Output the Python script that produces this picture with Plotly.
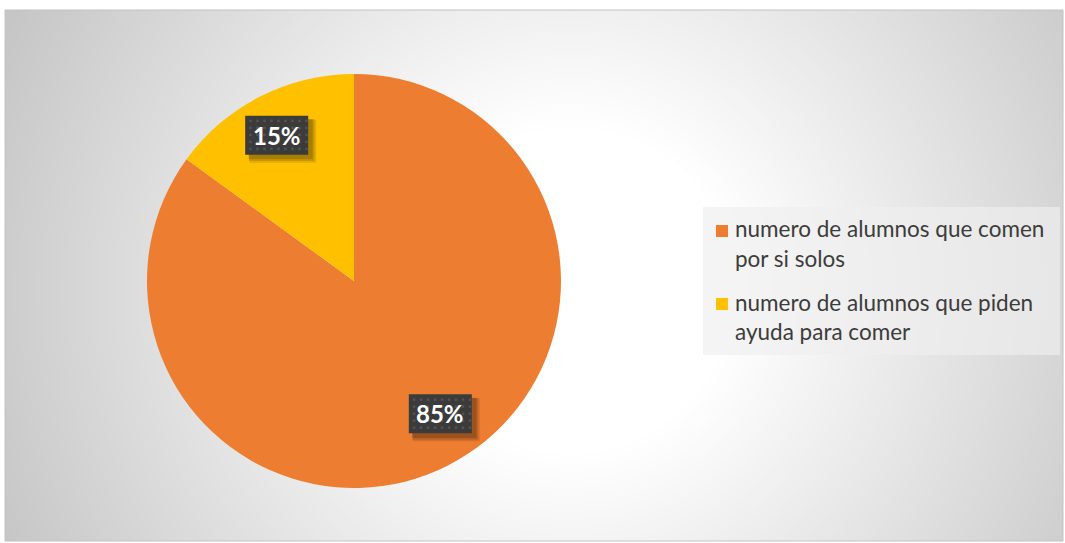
import numpy as np
import plotly.graph_objects as go

# ---- data ----
labels = [
    "numero de alumnos que comen por si solos",
    "numero de alumnos que piden ayuda para comer",
]
legend_lines = [
    ["numero de alumnos que comen", "por si solos"],
    ["numero de alumnos que piden", "ayuda para comer"],
]
values = [85, 15]
colors = ["#ED7D31", "#FFC000"]

# ---- layout geometry (pixels) ----
W, H = 1065, 543
FX0, FY0, FX1, FY1 = 5, 10, 1063, 541          # chart frame
PCX, PCY, PR = 354, 281, 207                    # pie centre / radius
LABEL_R = 0.78                                  # data label radial position
LABEL_NUDGE = [(13, -11), (-4, -2)]             # best-fit adjustments
BOX_W, BOX_H = 63, 39
LEG_X0, LEG_Y0, LEG_X1, LEG_Y1 = 703, 207, 1060, 355
LEG_SWATCH_X, LEG_TEXT_X = 716, 733
LEG_FIRST_Y, LEG_LINE_H, LEG_ENTRY_GAP = 229, 29, 15
FONT = "Lato"


def px(x):
    return x / W


def py(y):
    return 1 - y / H


fig = go.Figure()

# soft radial backdrop inside the chart frame
gx = np.linspace(FX0, FX1, 133)
gy = np.linspace(FY0, FY1, 67)
GX, GY = np.meshgrid(gx, gy)
dist = np.hypot(GX - 570, GY - 290)
shade = 255 - 57 * np.clip((dist - 160) / 460, 0, 1)
fig.add_trace(go.Heatmap(
    x=gx, y=gy, z=shade, zmin=198, zmax=255, zsmooth="best",
    colorscale=[[0, "rgb(198,198,198)"], [1, "rgb(255,255,255)"]],
    showscale=False, hoverinfo="skip",
))

fig.add_trace(go.Pie(
    labels=labels, values=values, sort=False, direction="clockwise", rotation=0,
    marker=dict(colors=colors, line=dict(width=0)),
    textinfo="none", hoverinfo="label+percent", showlegend=False,
    domain=dict(x=[px(PCX - PR), px(PCX + PR)], y=[py(PCY + PR), py(PCY - PR)]),
))

shapes = []
annotations = []

# data labels: dark dotted boxes with a soft shadow
total = sum(values)
cum = 0
for i, v in enumerate(values):
    mid = (cum + v / 2) / total
    cum += v
    th = 2 * np.pi * mid
    lx = PCX + LABEL_R * PR * np.sin(th) + LABEL_NUDGE[i][0]
    ly = PCY - LABEL_R * PR * np.cos(th) + LABEL_NUDGE[i][1]
    bx0, by0 = lx - BOX_W / 2, ly - BOX_H / 2
    bx1, by1 = lx + BOX_W / 2, ly + BOX_H / 2
    for k, a in enumerate([0.10, 0.12, 0.16]):
        o = 6 - k
        g = 2 - k * 0.7
        shapes.append(dict(type="rect", xref="paper", yref="paper", layer="above",
                           x0=px(bx0 + o - g), x1=px(bx1 + o + g),
                           y0=py(by1 + o + g), y1=py(by0 + o - g),
                           line=dict(width=0), fillcolor=f"rgba(0,0,0,{a})"))
    shapes.append(dict(type="rect", xref="paper", yref="paper", layer="above",
                       x0=px(bx0), x1=px(bx1), y0=py(by1), y1=py(by0),
                       line=dict(width=0), fillcolor="#3b3b3b"))
    for dx in np.arange(bx0 + 4, bx1 - 2, 7):
        for dy in np.arange(by0 + 4, by1 - 2, 7):
            shapes.append(dict(type="rect", xref="paper", yref="paper", layer="above",
                               x0=px(dx), x1=px(dx + 2.5), y0=py(dy + 2.5), y1=py(dy),
                               line=dict(width=0), fillcolor="#535353"))
    pct = round(100 * v / total)
    annotations.append(dict(x=px(lx), y=py(ly), xref="paper", yref="paper",
                            text=f"<b>{pct}%</b>", showarrow=False,
                            xanchor="center", yanchor="middle",
                            font=dict(family=FONT, size=24, color="white")))

# legend panel
shapes.append(dict(type="rect", xref="paper", yref="paper", layer="above",
                   x0=px(LEG_X0), x1=px(LEG_X1), y0=py(LEG_Y1), y1=py(LEG_Y0),
                   line=dict(width=0), fillcolor="rgba(239,239,239,0.67)"))
y = LEG_FIRST_Y
for i, lines in enumerate(legend_lines):
    shapes.append(dict(type="rect", xref="paper", yref="paper", layer="above",
                       x0=px(LEG_SWATCH_X), x1=px(LEG_SWATCH_X + 12),
                       y0=py(y + 8), y1=py(y - 4),
                       line=dict(width=0), fillcolor=colors[i]))
    for line in lines:
        annotations.append(dict(x=px(LEG_TEXT_X), y=py(y), xref="paper", yref="paper",
                                text=line, showarrow=False,
                                xanchor="left", yanchor="middle",
                                font=dict(family=FONT, size=22.5, color="#3c3c3c")))
        y += LEG_LINE_H
    y += LEG_ENTRY_GAP

# chart frame border
shapes.append(dict(type="rect", xref="paper", yref="paper", layer="above",
                   x0=px(FX0), x1=px(FX1), y0=py(FY1), y1=py(FY0),
                   line=dict(width=1, color="#c2c2c2"), fillcolor="rgba(0,0,0,0)"))

fig.update_layout(
    width=W, height=H, margin=dict(l=0, r=0, t=0, b=0),
    paper_bgcolor="white", plot_bgcolor="rgba(0,0,0,0)",
    xaxis=dict(domain=[px(FX0), px(FX1)], range=[FX0, FX1], visible=False, fixedrange=True),
    yaxis=dict(domain=[py(FY1), py(FY0)], range=[FY1, FY0], visible=False, fixedrange=True),
    shapes=shapes, annotations=annotations, showlegend=False,
)

fig.write_html("out.html")
